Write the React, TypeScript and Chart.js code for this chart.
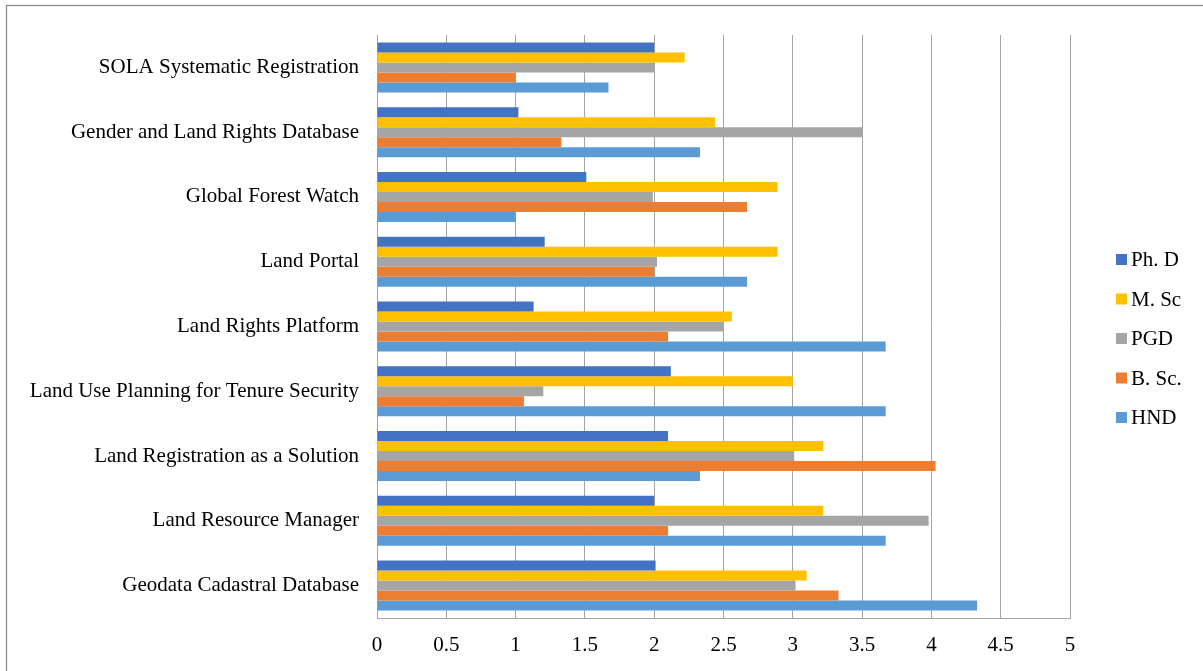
import React, { useEffect, useRef } from "react";
import { Chart, registerables } from "chart.js";

Chart.register(...registerables);

const categories = [
  "SOLA Systematic Registration",
  "Gender and Land Rights Database",
  "Global Forest Watch",
  "Land Portal",
  "Land Rights Platform",
  "Land Use Planning for Tenure Security",
  "Land Registration as a Solution",
  "Land Resource Manager",
  "Geodata Cadastral Database",
];

const seriesNames = ["Ph. D", "M. Sc", "PGD", "B. Sc.", "HND"];
const seriesColors = ["#4472C4", "#FFC000", "#A5A5A5", "#ED7D31", "#5B9BD5"];

const phdValues = [2.0, 1.02, 1.51, 1.21, 1.13, 2.12, 2.1, 2.0, 2.01];
const mscValues = [2.22, 2.44, 2.89, 2.89, 2.56, 3.0, 3.22, 3.22, 3.1];
const pgdValues = [2.0, 3.5, 1.99, 2.02, 2.5, 1.2, 3.01, 3.98, 3.02];
const bscValues = [1.0, 1.33, 2.67, 2.0, 2.1, 1.06, 4.03, 2.1, 3.33];
const hndValues = [1.67, 2.33, 1.0, 2.67, 3.67, 3.67, 2.33, 3.67, 4.33];

const seriesValues = [phdValues, mscValues, pgdValues, bscValues, hndValues];

const xMin = 0;
const xMax = 5;
const xStep = 0.5;
const xTickLabels = ["0", "0.5", "1", "1.5", "2", "2.5", "3", "3.5", "4", "4.5", "5"];

const FONT = "'Liberation Serif', 'Times New Roman', serif";

const framePlugin = {
  id: "frameAndLegend",
  beforeDraw(chart: any) {
    const ctx = chart.ctx;
    ctx.save();
    ctx.fillStyle = "#ffffff";
    ctx.fillRect(0, 0, chart.width, chart.height);
    ctx.strokeStyle = "#8c8c8c";
    ctx.lineWidth = 1.3;
    ctx.strokeRect(6.5, 5.5, chart.width + 50, chart.height + 50);
    ctx.restore();
  },
  afterDraw(chart: any) {
    const ctx = chart.ctx;
    ctx.save();
    const startY = 259.5;
    const gap = 39.5;
    ctx.font = `21px ${FONT}`;
    ctx.textBaseline = "middle";
    ctx.textAlign = "left";
    chart.data.datasets.forEach((ds: any, i: number) => {
      const cy = startY + i * gap;
      ctx.fillStyle = ds.backgroundColor;
      ctx.fillRect(1116, cy - 5.5, 11, 11);
      ctx.fillStyle = "#000000";
      ctx.fillText(ds.label, 1131, cy + 1);
    });
    ctx.restore();
  },
};

export default function App() {
  const canvasRef = useRef<HTMLCanvasElement | null>(null);

  useEffect(() => {
    if (!canvasRef.current) return;
    const chart = new Chart(canvasRef.current, {
      type: "bar",
      data: {
        labels: categories,
        datasets: seriesNames.map((name, i) => ({
          label: name,
          data: seriesValues[i],
          backgroundColor: seriesColors[i],
          borderWidth: 0,
          categoryPercentage: 0.772,
          barPercentage: 1.0,
        })),
      },
      options: {
        indexAxis: "y",
        responsive: false,
        animation: false,
        devicePixelRatio: 1,
        layout: { padding: { top: 35, right: 133, bottom: 0, left: 0 } },
        plugins: {
          legend: { display: false },
          tooltip: { enabled: false },
          title: { display: false },
        },
        scales: {
          x: {
            type: "linear",
            position: "bottom",
            min: xMin,
            max: xMax,
            ticks: {
              stepSize: xStep,
              padding: 15,
              color: "#000000",
              font: { family: FONT, size: 21 },
              callback: (_v: any, idx: number) => xTickLabels[idx],
            },
            grid: {
              display: true,
              drawTicks: false,
              color: "#a3a3a3",
              lineWidth: 1,
            },
            border: { display: true, color: "#a3a3a3", width: 1 },
            afterFit: (scale: any) => {
              scale.height = 53;
            },
          },
          y: {
            type: "category",
            position: "left",
            ticks: {
              padding: 18,
              color: "#000000",
              font: { family: FONT, size: 21 },
            },
            grid: { display: false, drawTicks: false },
            border: { display: true, color: "#a3a3a3", width: 1 },
            afterFit: (scale: any) => {
              scale.width = 377;
            },
          },
        },
      },
      plugins: [framePlugin],
    });
    return () => chart.destroy();
  }, []);

  return (
    <div style={{ position: "absolute", left: 0, top: 0, width: 1203, height: 671 }}>
      <canvas ref={canvasRef} width={1203} height={671} style={{ display: "block" }} />
    </div>
  );
}
